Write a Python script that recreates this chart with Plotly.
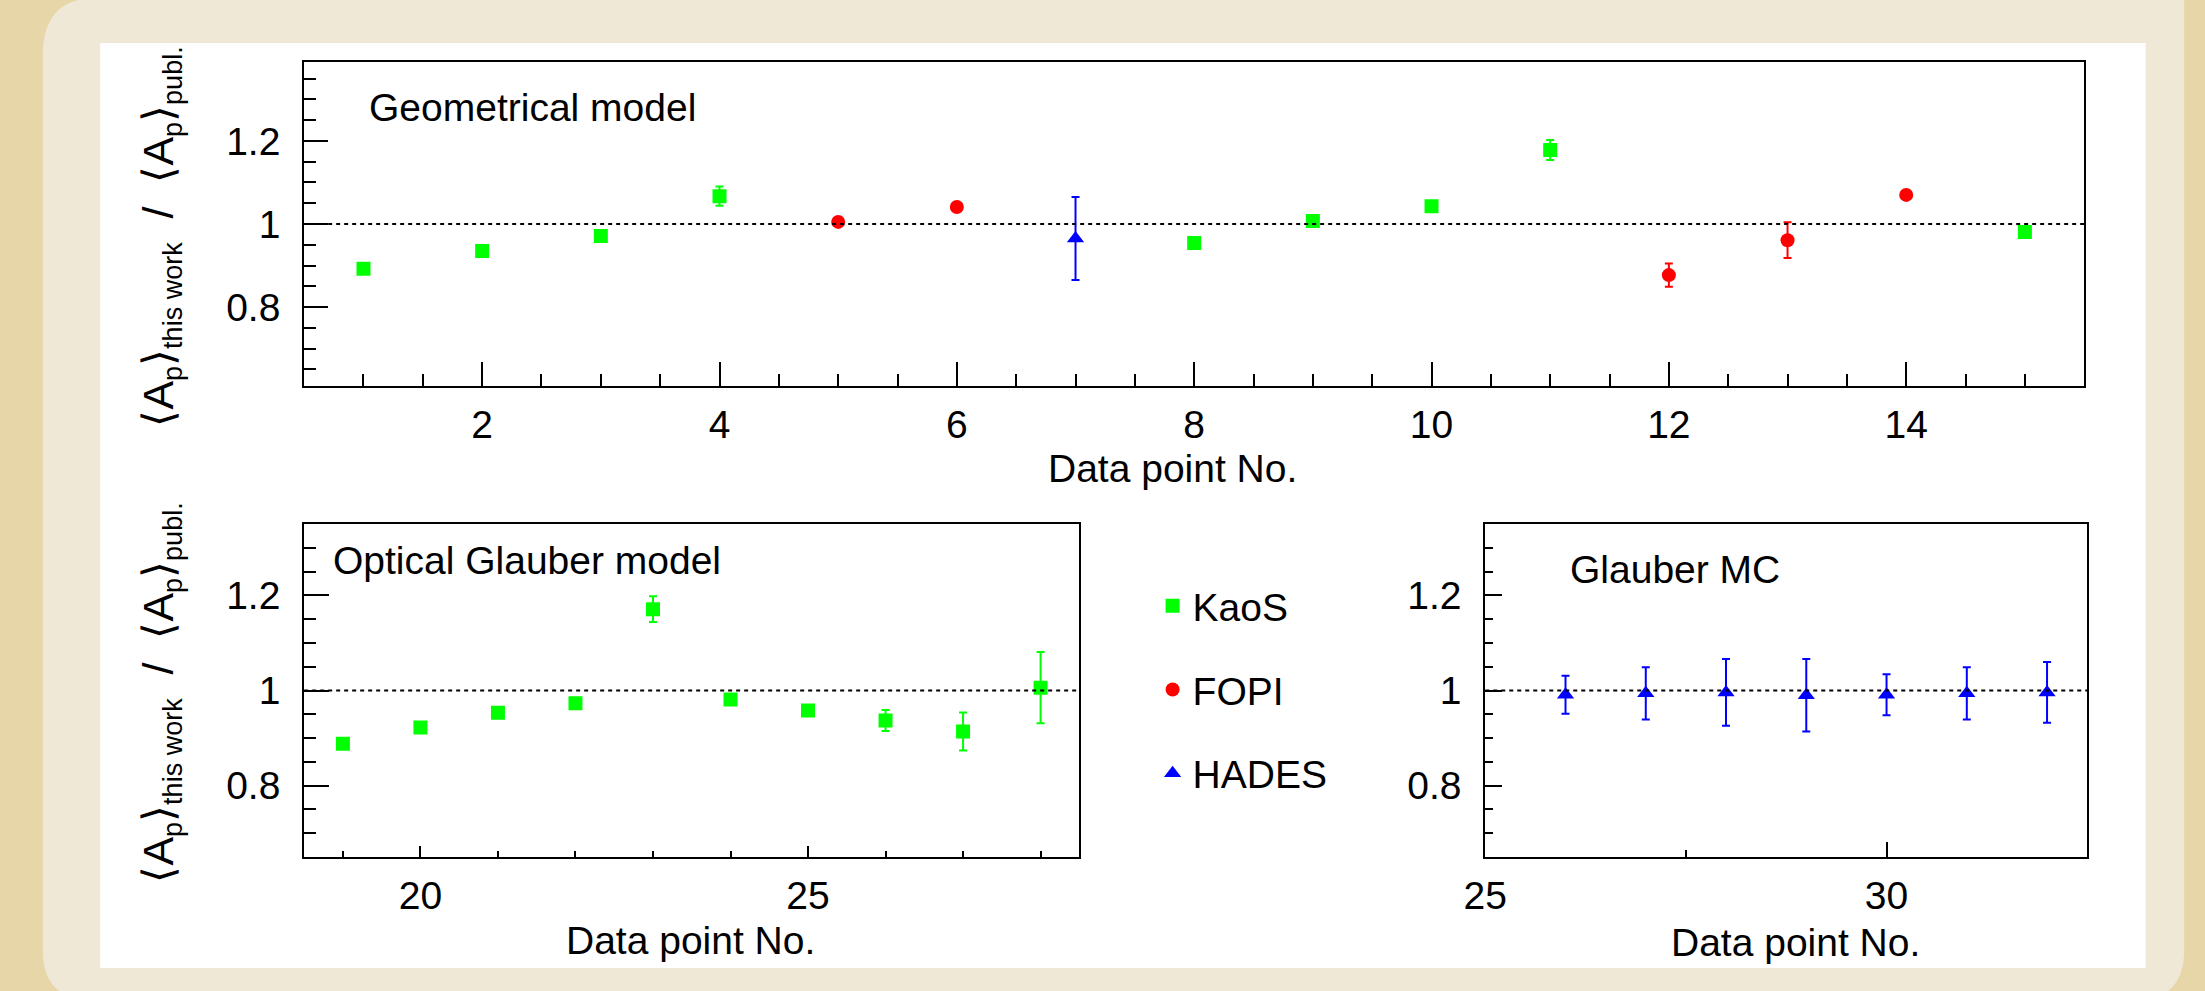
import plotly.graph_objects as go

# ---------------- data ----------------
geo_kaos_x = [1, 2, 3, 4, 8, 9, 10, 11, 15]
geo_kaos_y = [0.892, 0.935, 0.971, 1.067, 0.954, 1.007, 1.043, 1.178, 0.981]
geo_kaos_err = [0.005, 0.005, 0.005, 0.023, 0.005, 0.005, 0.005, 0.024, 0.005]

geo_fopi_x = [5, 6, 12, 13, 14]
geo_fopi_y = [1.005, 1.041, 0.877, 0.961, 1.070]
geo_fopi_err = [0.006, 0.008, 0.028, 0.043, 0.007]

geo_hades_x = [7]
geo_hades_y = [0.965]
geo_hades_err = [0.100]

ogl_kaos_x = [19, 20, 21, 22, 23, 24, 25, 26, 27, 28]
ogl_kaos_y = [0.888, 0.922, 0.953, 0.973, 1.171, 0.981, 0.958, 0.937, 0.914, 1.006]
ogl_kaos_err = [0.005, 0.005, 0.005, 0.005, 0.027, 0.005, 0.010, 0.022, 0.040, 0.075]

gmc_hades_x = [26, 27, 28, 29, 30, 31, 32]
gmc_hades_y = [0.991, 0.994, 0.996, 0.990, 0.991, 0.994, 0.996]
gmc_hades_err = [0.040, 0.055, 0.070, 0.076, 0.043, 0.055, 0.064]

ref_level = 1.0
panel_labels = ["Geometrical model", "Optical Glauber model", "Glauber MC"]
series_names = ["KaoS", "FOPI", "HADES"]
x_title = "Data point No."


def sub(t):
    return f"<sub><span style='font-size:27px'>{t}</span></sub>"


y_title = ("\u27e8A" + sub("p") + "\u27e9" + sub("this work") +
           "\u00a0\u00a0/\u00a0\u00a0" +
           "\u27e8A" + sub("p") + "\u27e9" + sub("publ."))

# ---------------- geometry helpers ----------------
W, H = 2205, 991
FONT = "Liberation Sans, Arial, Helvetica, sans-serif"
FS = 39


def px(x):
    return x / W


def py(y):
    return 1 - y / H


GREEN, RED, BLUE = "#00ff00", "#ff0000", "#0000ff"

fig = go.Figure()


def add_series(x, y, err, color, symbol, size, name, xa, ya, show, group):
    fig.add_trace(go.Scatter(
        x=x, y=y, mode="markers", name=name,
        marker=dict(color=color, symbol=symbol, size=size, line=dict(width=0)),
        error_y=dict(type="data", array=err, visible=True, color=color,
                     thickness=2, width=4),
        xaxis=xa, yaxis=ya, showlegend=show, legendgroup=group,
    ))


add_series(geo_kaos_x, geo_kaos_y, geo_kaos_err, GREEN, "square", 14, series_names[0], "x", "y", True, "k")
add_series(ogl_kaos_x, ogl_kaos_y, ogl_kaos_err, GREEN, "square", 14, series_names[0], "x2", "y2", False, "k")
add_series(geo_fopi_x, geo_fopi_y, geo_fopi_err, RED, "circle", 14, series_names[1], "x", "y", True, "f")
add_series(geo_hades_x, geo_hades_y, geo_hades_err, BLUE, "triangle-up", 15, series_names[2], "x", "y", True, "h")
add_series(gmc_hades_x, gmc_hades_y, gmc_hades_err, BLUE, "triangle-up", 15, series_names[2], "x3", "y3", False, "h")


def axis(domain, rng, dtick, mdtick, tlen, mlen, anchor, standoff, tick0=0):
    return dict(
        domain=domain, range=rng, anchor=anchor,
        tickmode="linear", tick0=tick0, dtick=dtick,
        ticks="inside", ticklen=tlen, tickwidth=2, tickcolor="black",
        minor=dict(ticks="inside", ticklen=mlen, tickwidth=2, tickcolor="black",
                   dtick=mdtick, tick0=tick0, showgrid=False),
        showline=True, mirror=True, linecolor="black", linewidth=2,
        showgrid=False, zeroline=False, ticklabelstandoff=standoff,
        tickfont=dict(family=FONT, size=FS, color="black"),
    )


top_x = [px(285), px(2083)]
top_y = [py(386), py(62)]
bl_x = [px(285), px(1068)]
br_x = [px(1478), px(2086)]
bot_y = [py(857), py(524)]

xa1 = axis(top_x, [0.5, 15.5], 2, 0.5, 24, 12, "y", 3)
ya1 = axis(top_y, [0.61, 1.39], 0.2, 0.05, 24, 12, "x", 14)
xa2 = axis(bl_x, [18.5, 28.5], 5, 1, 11, 6, "y2", 3)
ya2 = axis(bot_y, [0.65, 1.35], 0.2, 0.05, 25, 12, "x2", 14)
xa3 = axis(br_x, [25, 32.5], 5, 2.5, 15, 7, "y3", 3)
ya3 = axis(bot_y, [0.65, 1.35], 0.2, 0.05, 17, 8, "x3", 14)

shapes = [
    # light slide area with rounded corners
    dict(type="path", xref="paper", yref="paper", layer="below",
         path=(f"M {px(21)},{py(-30)} L {px(2184)},{py(-30)} L {px(2184)},{py(950)} "
               f"Q {px(2184)},{py(1000)} {px(2134)},{py(1000)} L {px(71)},{py(1000)} "
               f"Q {px(21)},{py(1000)} {px(21)},{py(950)} Z"),
         fillcolor="#efe8d7", line=dict(width=0)),
    dict(type="path", xref="paper", yref="paper", layer="below",
         path=(f"M {px(21)},{py(55)} Q {px(21)},{py(-2)} {px(75)},{py(-2)} "
               f"L {px(21)},{py(-2)} Z"),
         fillcolor="#e6d6a8", line=dict(width=0)),
    # white canvas
    dict(type="rect", xref="paper", yref="paper", layer="below",
         x0=px(79), x1=px(2145), y0=py(968), y1=py(43),
         fillcolor="white", line=dict(width=0)),
]
for xr, yr in (("x", "y"), ("x2", "y2"), ("x3", "y3")):
    shapes.append(dict(type="line", xref=f"{xr} domain", yref=yr, x0=0, x1=1,
                       y0=ref_level, y1=ref_level, layer="above",
                       line=dict(color="black", width=2, dash="4px,4px")))

tf = dict(family=FONT, size=FS, color="black")
yf = dict(family=FONT, size=43, color="black")
annotations = [
    dict(text=panel_labels[0], x=px(348), y=py(107), xref="paper", yref="paper",
         xanchor="left", yanchor="middle", showarrow=False, font=tf),
    dict(text=panel_labels[1], x=px(312), y=py(560), xref="paper", yref="paper",
         xanchor="left", yanchor="middle", showarrow=False, font=tf),
    dict(text=panel_labels[2], x=px(1562), y=py(569), xref="paper", yref="paper",
         xanchor="left", yanchor="middle", showarrow=False, font=tf),
    dict(text=x_title, x=px(1162), y=py(468), xref="paper", yref="paper",
         xanchor="center", yanchor="middle", showarrow=False, font=tf),
    dict(text=x_title, x=px(675), y=py(940), xref="paper", yref="paper",
         xanchor="center", yanchor="middle", showarrow=False, font=tf),
    dict(text=x_title, x=px(1791), y=py(942), xref="paper", yref="paper",
         xanchor="center", yanchor="middle", showarrow=False, font=tf),
    dict(text=y_title, x=px(140), y=py(237), xref="paper", yref="paper",
         xanchor="center", yanchor="middle", showarrow=False, font=yf, textangle=-90),
    dict(text=y_title, x=px(140), y=py(693), xref="paper", yref="paper",
         xanchor="center", yanchor="middle", showarrow=False, font=yf, textangle=-90),
]

fig.update_layout(
    width=W, height=H, margin=dict(l=0, r=0, t=0, b=0, pad=0),
    paper_bgcolor="#e6d6a8", plot_bgcolor="rgba(0,0,0,0)",
    font=dict(family=FONT, size=FS, color="black"),
    xaxis=xa1, yaxis=ya1, xaxis2=xa2, yaxis2=ya2, xaxis3=xa3, yaxis3=ya3,
    shapes=shapes, annotations=annotations,
    showlegend=True,
    legend=dict(x=px(1142), y=py(690), xanchor="left", yanchor="middle",
                xref="paper", yref="paper",
                font=dict(family=FONT, size=FS, color="black"),
                bgcolor="rgba(0,0,0,0)", borderwidth=0,
                tracegroupgap=30, itemsizing="trace", traceorder="grouped"),
)

fig.write_html("out.html", post_script="document.body.style.margin='0';")
